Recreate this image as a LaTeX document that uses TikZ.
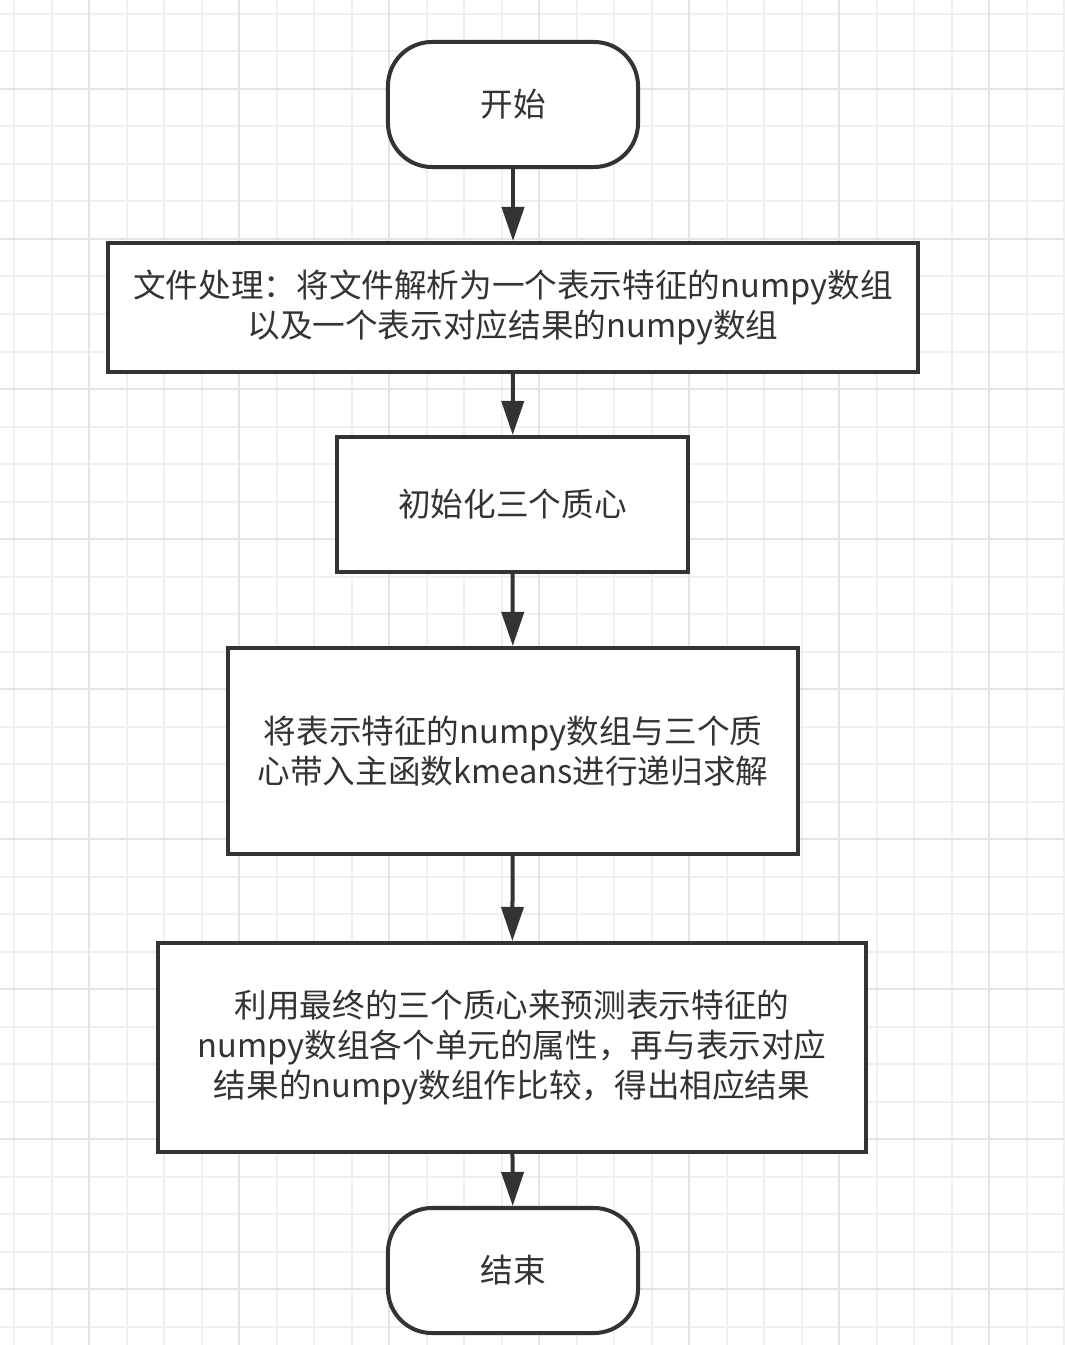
\documentclass[tikz,border=0pt]{standalone}
\usepackage{fontspec}
\setmainfont{Noto Sans CJK SC}
\usetikzlibrary{arrows.meta}
\definecolor{ink}{HTML}{333333}
\definecolor{gridminor}{HTML}{F0F0F0}
\definecolor{gridmajor}{HTML}{E4E4E4}

\tikzset{
  terminal/.style={draw=ink, line width=0.1cm, fill=white, rounded corners=1.1cm,
    minimum width=6.25cm, minimum height=3.125cm, text=ink, align=center},
  process/.style={draw=ink, line width=0.1cm, fill=white, text=ink,
    align=center, inner sep=0pt},
  flow/.style={draw=ink, line width=0.1cm,
    -{Triangle[length=0.85cm, width=0.55cm]}}
}

\begin{document}
\begin{tikzpicture}[x=0.025cm, y=-0.025cm,
  font=\fontsize{23.2}{28.5}\selectfont]

\useasboundingbox (0,0) rectangle (1064,1345);
\fill[white] (0,0) rectangle (1064,1345);

% background grid: minor every 37.5px, major every fourth line
\foreach \g in {0,...,36}{
  \pgfmathsetmacro{\gp}{14+\g*37.5}
  \draw[gridminor, line width=0.05cm] (\gp,0) -- (\gp,1345);
  \draw[gridminor, line width=0.05cm] (0,\gp) -- (1064,\gp);
}
\foreach \g in {0,...,9}{
  \pgfmathsetmacro{\gp}{89+\g*150}
  \draw[gridmajor, line width=0.05cm] (\gp,0) -- (\gp,1345);
  \draw[gridmajor, line width=0.05cm] (0,\gp) -- (1064,\gp);
}

% flow chart
\node[terminal] (start) at (513,104.5) {开始};
\node[process, minimum width=20.25cm, minimum height=3.225cm] (parse)
  at (513,307.5)
  {文件处理：将文件解析为一个表示特征的numpy数组\\
   以及一个表示对应结果的numpy数组};
\node[process, minimum width=8.775cm, minimum height=3.375cm] (init)
  at (512.5,504.5) {初始化三个质心};
\node[process, minimum width=14.25cm, minimum height=5.15cm] (kmeans)
  at (513,751)
  {将表示特征的numpy数组与三个质\\
   心带入主函数kmeans进行递归求解};
\node[process, minimum width=17.7cm, minimum height=5.225cm] (predict)
  at (512,1047.5)
  {利用最终的三个质心来预测表示特征的\\
   numpy数组各个单元的属性，再与表示对应\\
   结果的numpy数组作比较，得出相应结果};
\node[terminal] (stop) at (513,1270.5) {结束};

\draw[flow] (start) -- (parse);
\draw[flow] (parse) -- (init);
\draw[flow] (init) -- (kmeans);
\draw[flow] (kmeans) -- (predict);
\draw[flow] (predict) -- (stop);

\end{tikzpicture}
\end{document}
